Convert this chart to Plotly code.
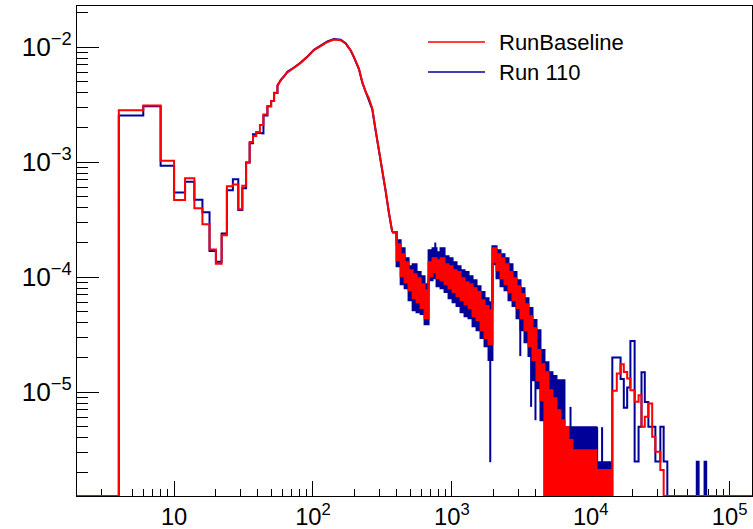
import math
import plotly.graph_objects as go

# ---------------- data ----------------
Y_MIN = 1.25e-6          # value drawn for empty bins (= lower edge of the y axis)
Y_MAX = 0.0228
X_MIN, X_MAX = 2.0, 1.449e5
F = Y_MIN

# low-energy bins (step histogram)
low_edges = [2, 4, 6, 8, 10, 12, 14, 16, 18, 20, 22, 24, 26.5, 29, 31, 33, 35, 37, 39,
             41.5, 44, 47, 50, 52.5, 55.5]
baseline_low = [F, 2.83e-3, 3.11e-3, 1.03e-3, 4.68e-4, 7.26e-4, 3.98e-4, 2.89e-4, 1.74e-4,
                1.31e-4, 2.31e-4, 6.18e-4, 6.40e-4, 3.90e-4, 6.22e-4, 9.93e-4, 1.50e-3, 1.69e-3,
                1.83e-3, 2.10e-3, 2.60e-3, 3.07e-3, 3.41e-3, 4.01e-3]
run110_low = [F, 2.55e-3, 3.07e-3, 9.3e-4, 5.46e-4, 6.76e-4, 4.72e-4, 3.67e-4, 1.69e-4,
              1.36e-4, 2.40e-4, 5.71e-4, 7.11e-4, 3.83e-4, 5.94e-4, 9.93e-4, 1.46e-3, 1.75e-3,
              1.80e-3, 1.78e-3, 2.55e-3, 3.07e-3, 3.41e-3, 4.0e-3]

# main peak (fine bins, drawn as a curve)
peak_x = [55.5, 58.6, 61.8, 65.4, 73.0, 81.6, 91.2, 101.6, 113.6, 127, 141.6, 158.3, 171.9,
          186.8, 197.2, 214.2, 226.6, 239.4, 252.9, 267.4, 282.6, 298.5, 315.6, 333.4, 352.2, 372.4]
baseline_peak = [4.67e-3, 5.16e-3, 5.60e-3, 6.03e-3, 6.61e-3, 7.30e-3, 8.24e-3, 9.42e-3, 1.02e-2,
                 1.11e-2, 1.167e-2, 1.15e-2, 1.077e-2, 9.42e-3, 8.24e-3, 6.53e-3, 4.99e-3,
                 4.09e-3, 3.58e-3, 2.93e-3, 1.90e-3, 1.27e-3, 9.23e-4, 5.71e-4, 3.67e-4, 2.46e-4]
run110_peak = [4.60e-3, 5.20e-3, 5.55e-3, 6.10e-3, 6.65e-3, 7.35e-3, 8.30e-3, 9.50e-3, 1.03e-2,
               1.12e-2, 1.175e-2, 1.16e-2, 1.08e-2, 9.35e-3, 8.15e-3, 6.45e-3, 4.90e-3,
               4.05e-3, 3.50e-3, 2.88e-3, 1.88e-3, 1.25e-3, 9.0e-4, 5.6e-4, 3.6e-4, 2.46e-4]

# dense, noisy region: envelope (min / max of the many fine bins in each column)
band_x = [372, 400, 428, 457, 488, 522, 557, 596, 636, 680, 726, 776, 829, 886, 947, 1012,
          1081, 1155, 1234, 1319, 1409, 1506, 1609, 1719, 1837, 1960, 2097, 2241, 2394, 2558,
          2734, 2921, 3121, 3334, 3563, 3807, 4068, 4346, 4644, 4962, 5302, 5666, 6053, 6468,
          6911, 7384, 8431, 9627, 10990, 12550, 14300]
baseline_hi = [2.46e-4, 1.936e-4, 1.585e-4, 1.351e-4, 1.151e-4, 1.062e-4, 9.80e-5, 8.69e-5,
               7.71e-5, 1.351e-4, 1.463e-4, 1.406e-4, 1.463e-4, 1.297e-4, 1.247e-4, 1.151e-4,
               1.106e-4, 9.80e-5, 9.05e-5, 8.69e-5, 8.02e-5, 7.41e-5, 6.31e-5, 5.60e-5, 5.16e-5,
               1.788e-4, 1.585e-4, 1.463e-4, 1.297e-4, 1.106e-4, 9.80e-5, 8.35e-5, 7.12e-5,
               5.82e-5, 4.58e-5, 3.60e-5, 2.32e-5, 1.75e-5, 1.49e-5, 1.041e-5, 8.87e-6, 6.97e-6,
               5.71e-6, 4.96e-6, 3.83e-6, 3.13e-6, 3.13e-6, 3.13e-6, 2.10e-6, 2.10e-6, 2.10e-6]
baseline_lo = [2.46e-4, 1.406e-4, 1.020e-4, 9.05e-5, 7.71e-5, 6.57e-5, 6.06e-5, 5.38e-5,
               4.40e-5, 1.020e-4, 1.106e-4, 9.80e-5, 9.42e-5, 8.69e-5, 8.02e-5, 7.41e-5,
               6.84e-5, 6.31e-5, 5.82e-5, 5.38e-5, 4.58e-5, 4.23e-5, 3.46e-5, 2.95e-5, 2.61e-5,
               1.351e-4, 1.151e-4, 9.80e-5, 8.69e-5, 7.41e-5, 6.31e-5, 5.38e-5, 4.40e-5,
               3.46e-5, 2.51e-5, 1.90e-5, 1.27e-5, 8.52e-6, F, F, F, F, F, F, F, F, F, F, F, F, F]
run110_hi = [2.46e-4, 2.097e-4, 1.788e-4, 1.463e-4, 1.247e-4, 1.297e-4, 1.106e-4, 1.020e-4,
             8.69e-5, 1.718e-4, 1.788e-4, 1.650e-4, 1.788e-4, 1.523e-4, 1.463e-4, 1.351e-4,
             1.247e-4, 1.151e-4, 1.106e-4, 1.020e-4, 9.42e-5, 8.35e-5, 7.41e-5, 6.57e-5, 6.06e-5,
             1.861e-4, 1.718e-4, 1.585e-4, 1.463e-4, 1.297e-4, 1.106e-4, 9.42e-5, 8.02e-5,
             6.57e-5, 5.38e-5, 4.23e-5, 3.46e-5, 2.32e-5, 1.82e-5, 1.49e-5, 1.38e-5, 1.27e-5,
             1.27e-5, 4.96e-6, 4.96e-6, 4.96e-6, 4.96e-6, 4.96e-6, 2.46e-6, 2.46e-6, 2.46e-6]
run110_lo = [2.46e-4, 1.247e-4, 8.69e-5, 8.02e-5, 6.31e-5, 5.16e-5, 4.96e-5, 4.77e-5,
             3.90e-5, 9.42e-5, 9.80e-5, 8.35e-5, 8.02e-5, 7.41e-5, 6.57e-5, 6.06e-5,
             5.60e-5, 4.96e-5, 4.58e-5, 4.40e-5, 3.75e-5, 3.46e-5, 2.95e-5, 2.51e-5, 1.90e-5,
             1.297e-4, 9.80e-5, 8.35e-5, 7.71e-5, 6.31e-5, 5.60e-5, 4.40e-5, 3.46e-5,
             2.72e-5, 2.06e-5, 1.27e-5, 1.08e-5, 5.71e-6, F, F, F, F, F, F, F, F, F, F, F, F, F]

# isolated single bins sticking out of the Run 110 envelope
run110_spike_x = [760, 1890, 3110, 3720, 4000, 7150, 10240, 11120, 12070]
run110_spike_lo = [1.4e-4, 2.46e-6, 2.06e-5, 7.45e-6, 5.7e-6, F, F, F, F]
run110_spike_hi = [2.0e-4, 5.0e-5, 7.0e-5, 4.0e-5, 3.0e-5, 7.45e-6, 4.96e-6, 4.96e-6, 4.96e-6]

# high-energy bins (step histogram)
high_edges = [14300, 15400, 16400, 17300, 18300, 19300, 20700, 22100, 23200, 24500, 26000,
              27700, 29200, 31700, 33500, 35600, 38100, 58000, 59800, 66000, 67800, 150000]
baseline_high = [1.026e-5, 1.455e-5, 1.75e-5, 1.50e-5, 1.315e-5, 1.04e-5, 8.24e-6, 9.42e-6,
                 4.99e-6, 6.10e-6, 7.97e-6, 4.09e-6, 3.03e-6, 2.10e-6, F, F, F, F, F, F, F]
run110_high = [2.0e-5, 2.0e-5, 1.3e-5, 7.3e-6, 1.1e-5, 2.79e-5, 2.5e-6, 5.0e-6, 1.49e-5, 8.2e-6,
               5.0e-6, 5.0e-6, 2.5e-6, 5.0e-6, 2.5e-6, F, F, 2.48e-6, F, 2.48e-6, F]

series_names = ["RunBaseline", "Run 110"]
RED = "#ff0000"
BLUE = "#000099"
LW = 2


def steps(edges, vals, start_floor=False):
    xs, ys = [], []
    if start_floor:
        xs.append(edges[0]); ys.append(Y_MIN)
    for i, v in enumerate(vals):
        xs += [edges[i], edges[i + 1]]
        ys += [v, v]
    return xs, ys


def spikes(xv, lo, hi):
    xs, ys = [], []
    for x, a, b in zip(xv, lo, hi):
        xs += [x, x, None]
        ys += [a, b, None]
    return xs, ys


fig = go.Figure()


def add_series(color, low_vals, peak_vals, lo, hi, high_vals, spk=None):
    sx, sy = steps(low_edges, low_vals)
    sx += peak_x
    sy += peak_vals
    fig.add_trace(go.Scatter(x=sx, y=sy, mode="lines", line=dict(color=color, width=LW),
                             showlegend=False, hoverinfo="skip"))
    fig.add_trace(go.Scatter(x=band_x, y=lo, mode="lines",
                             line=dict(color=color, width=LW, shape="hv"),
                             showlegend=False, hoverinfo="skip"))
    fig.add_trace(go.Scatter(x=band_x, y=hi, mode="lines", fill="tonexty", fillcolor=color,
                             line=dict(color=color, width=LW, shape="hv"),
                             showlegend=False, hoverinfo="skip"))
    if spk is not None:
        kx, ky = spikes(*spk)
        fig.add_trace(go.Scatter(x=kx, y=ky, mode="lines", line=dict(color=color, width=LW),
                                 showlegend=False, hoverinfo="skip"))
    hx, hy = steps(high_edges, high_vals, start_floor=True)
    fig.add_trace(go.Scatter(x=hx, y=hy, mode="lines", line=dict(color=color, width=LW),
                             showlegend=False, hoverinfo="skip"))


add_series(BLUE, run110_low, run110_peak, run110_lo, run110_hi, run110_high,
           (run110_spike_x, run110_spike_lo, run110_spike_hi))
add_series(RED, baseline_low, baseline_peak, baseline_lo, baseline_hi, baseline_high)

FONT = "Liberation Sans, Arial, Helvetica, sans-serif"
axis_common = dict(
    type="log", showgrid=False, zeroline=False, showline=True, linecolor="black",
    linewidth=1, mirror=True, ticks="inside", tickcolor="black", tickwidth=1,
    dtick=1, exponentformat="power", layer="below traces", automargin=False,
)
fig.update_xaxes(**axis_common, range=[math.log10(X_MIN), math.log10(X_MAX)], ticklen=15,
                 tickfont=dict(family=FONT, size=19, color="black"),
                 minor=dict(ticks="inside", ticklen=7, tickcolor="black", tickwidth=1,
                            dtick="D1", showgrid=False))
fig.update_yaxes(**axis_common, range=[math.log10(Y_MIN), math.log10(Y_MAX)], ticklen=22,
                 tickfont=dict(family=FONT, size=21, color="black"),
                 minor=dict(ticks="inside", ticklen=11, tickcolor="black", tickwidth=1,
                            dtick="D1", showgrid=False))

# legend (ROOT-style, no frame)
leg_y = [0.9265, 0.8653]
for name, col, yy in zip(series_names, [RED, BLUE], leg_y):
    fig.add_shape(type="line", xref="paper", yref="paper", x0=0.52, x1=0.6044, y0=yy, y1=yy,
                  line=dict(color=col, width=1.5))
    fig.add_annotation(xref="paper", yref="paper", x=0.6222, y=yy, text=name, showarrow=False,
                       xanchor="left", yanchor="middle",
                       font=dict(family=FONT, size=22, color="black"))

fig.update_layout(width=753, height=529, margin=dict(l=77, r=1, t=6, b=33),
                  plot_bgcolor="white", paper_bgcolor="white", showlegend=False)

fig.write_html("out.html")
